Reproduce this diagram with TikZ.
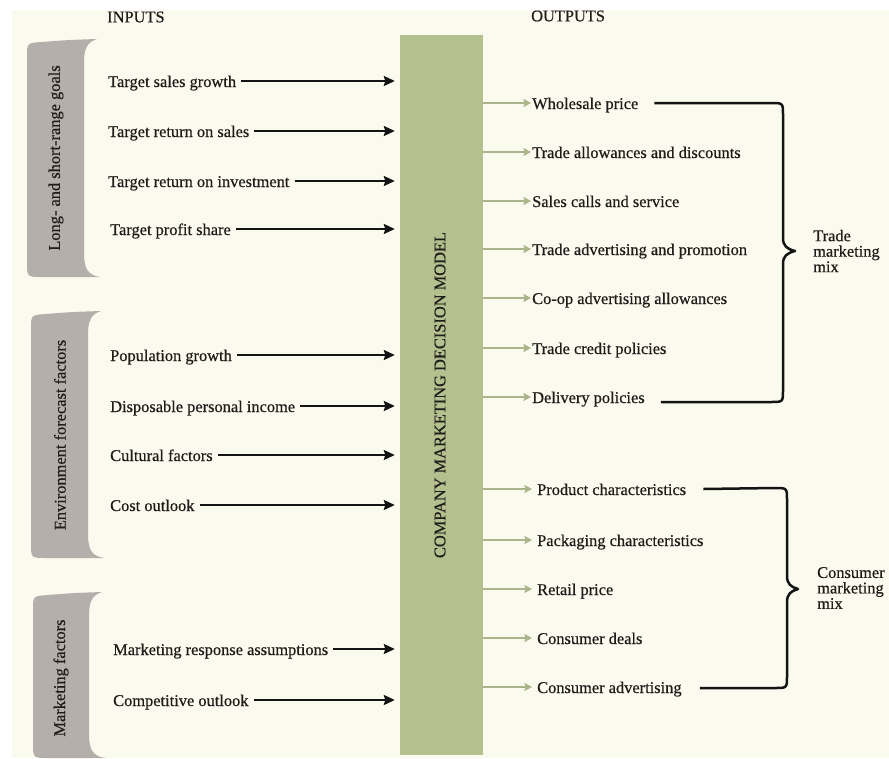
\documentclass[tikz,border=0pt]{standalone}
\usepackage{fontspec}
\setmainfont{Liberation Serif}
\usetikzlibrary{arrows.meta}

\definecolor{paper}{HTML}{FBFAEE}
\definecolor{inkc}{HTML}{1F1C1A}
\definecolor{barc}{HTML}{B5C08F}
\definecolor{outc}{HTML}{ABB58B}
\definecolor{tabc}{HTML}{B5AFAB}

\newcommand\labfont{\fontsize{16.4}{17}\selectfont\addfontfeature{FakeBold=0.5}}

% side tab: rounded on the left, concave flared edge on the right
% #1 left x, #2 top y, #3 bottom y, #4 inner right x
\newcommand\drawtab[4]{%
  \fill[tabc] (#1+15,#2+3) .. controls (#1+40,#2+1) .. (#4+13,#2)
    .. controls (#4+3,#2+3) and (#4,#2+10) .. (#4,#2+24)
    -- (#4,#3-24)
    .. controls (#4,#3-8) and (#4+4,#3-2) .. (#4+16,#3)
    -- (#1+15,#3) .. controls (#1,#3) .. (#1,#3-15)
    -- (#1,#2+18) .. controls (#1,#2+4) .. (#1+15,#2+3) -- cycle;}

\tikzset{
  lab/.style={anchor=west, inner sep=0pt, text height=12pt, text depth=0pt,
    text=inkc, font=\labfont},
  head/.style={anchor=west, inner sep=0pt, text=inkc, font=\labfont},
  vlab/.style={rotate=90, inner sep=0pt, text=inkc, font=\labfont},
  mixlab/.style={anchor=west, inner sep=0pt, align=left, text=inkc,
    font=\fontsize{16.4}{15.5}\selectfont\addfontfeature{FakeBold=0.5}},
  inarrow/.style={draw=black!92, line width=2pt,
    -{Stealth[length=11pt,width=10pt,inset=1.5pt]},
    shorten <=5pt, shorten >=5pt},
  outarrow/.style={draw=outc, line width=2.8pt,
    -{Stealth[length=7.5pt,width=8pt,inset=1pt]}},
  brace/.style={draw=black!92, line width=2.5pt, line join=round},
  bar/.style={fill=barc, draw=none, inner sep=0pt}
}

\begin{document}
\begin{tikzpicture}[x=1pt,y=-1pt]
\useasboundingbox (0,0) rectangle (889,758);
\fill[white] (0,0) rectangle (889,758);
\fill[paper] (12,10) rectangle (889,758);

% headings
\node[head] (inputs) at (107,17) {INPUTS};
\node[head] (outputs) at (531,16) {OUTPUTS};

% central model bar
\node[bar, minimum width=83pt, minimum height=720pt] (bar) at (441.5,395) {};
\node[vlab] (barlabel) at (440,395) {COMPANY MARKETING DECISION MODEL};

% grouping tabs
\drawtab{27}{39}{277}{84}
\drawtab{31}{311}{558}{88}
\drawtab{33}{592}{758}{89}
\node[vlab] (tabgoals) at (56,158) {Long- and short-range goals};
\node[vlab] (tabenv) at (60,435) {Environment forecast factors};
\node[vlab] (tabmkt) at (61,678) {Marketing factors};

% inputs
\node[lab] (i1) at (108,81) {Target sales growth};
\node[lab] (i2) at (108,131) {Target return on sales};
\node[lab] (i3) at (108,181) {Target return on investment};
\node[lab] (i4) at (110,229) {Target profit share};
\node[lab] (i5) at (110,355) {Population growth};
\node[lab] (i6) at (110,406) {Disposable personal income};
\node[lab] (i7) at (110,455) {Cultural factors};
\node[lab] (i8) at (110,505) {Cost outlook};
\node[lab] (i9) at (113,649) {Marketing response assumptions};
\node[lab] (i10) at (113,700) {Competitive outlook};
\foreach \n in {1,...,10}
  \draw[inarrow] (i\n.east) -- (i\n.east -| bar.west);

% trade outputs
\node[lab] (o1) at (532,103) {Wholesale price};
\node[lab] (o2) at (532,152) {Trade allowances and discounts};
\node[lab] (o3) at (532,201) {Sales calls and service};
\node[lab] (o4) at (532,249) {Trade advertising and promotion};
\node[lab] (o5) at (532,298) {Co-op advertising allowances};
\node[lab] (o6) at (532,348) {Trade credit policies};
\node[lab] (o7) at (532,397) {Delivery policies};
% consumer outputs
\node[lab] (c1) at (537,489) {Product characteristics};
\node[lab] (c2) at (537,540) {Packaging characteristics};
\node[lab] (c3) at (537,589) {Retail price};
\node[lab] (c4) at (537,638) {Consumer deals};
\node[lab] (c5) at (537,687) {Consumer advertising};
\foreach \n in {1,...,7}
  \draw[outarrow, shorten >=1pt] (bar.east |- o\n.west) -- (o\n.west);
\foreach \n in {1,...,5}
  \draw[outarrow, shorten >=5pt] (bar.east |- c\n.west) -- (c\n.west);

% braces
\draw[brace] ([xshift=16pt]o1.east) -- (771,103)
  .. controls (783,103) .. (783,115) -- (783,238)
  .. controls (783,246) and (787,249) .. (795,251)
  .. controls (787,253) and (783,256) .. (783,264) -- (783,390)
  .. controls (783,402) .. (771,402) -- ([xshift=16pt,yshift=-5pt]o7.east);
\draw[brace] ([xshift=17pt]c1.east) -- (775,488)
  .. controls (787,488) .. (787,500) -- (787,576)
  .. controls (787,584) and (791,587) .. (798,589)
  .. controls (791,591) and (787,594) .. (787,602) -- (787,676)
  .. controls (787,688) .. (775,688) -- ([xshift=18pt,yshift=-1pt]c5.east);

\node[mixlab] (trademix) at (813,251) {Trade\\marketing\\mix};
\node[mixlab] (consmix) at (817,588) {Consumer\\marketing\\mix};
\end{tikzpicture}
\end{document}
